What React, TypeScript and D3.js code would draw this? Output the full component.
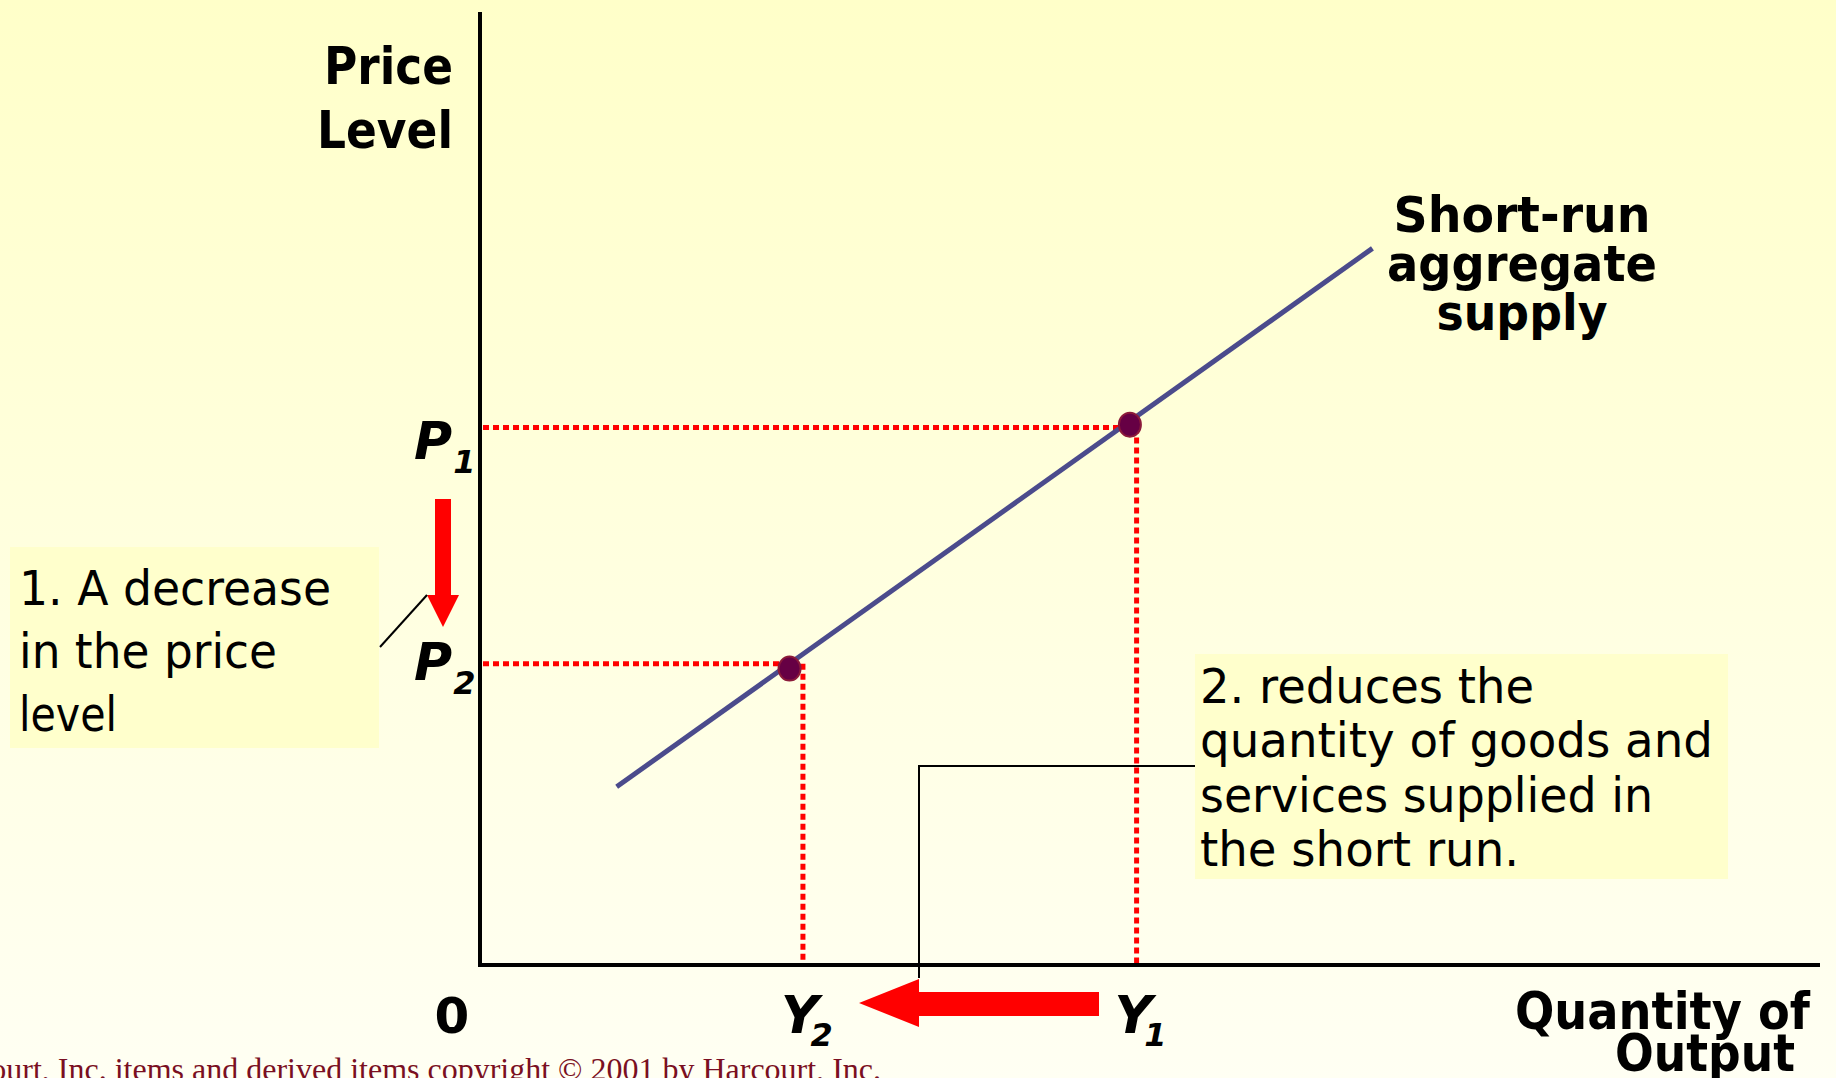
import * as d3 from "d3";

// short-run aggregate supply (output q, price level p)
const srasLine = [
  { q: 1.02, p: 1.87 },
  { q: 6.66, p: 7.52 },
];
const equilibria = [
  { q: 4.85, p: 5.67 },
  { q: 2.31, p: 3.11 },
];
const priceLevels = [
  { name: "P", sub: "1", p: 5.64, dy: 31 },
  { name: "P", sub: "2", p: 3.16, dy: 16 },
];
const outputLevels = [
  { name: "Y", sub: "1", q: 4.9 },
  { name: "Y", sub: "2", q: 2.41 },
];
const note1 = ["1. A decrease", "in the price", "level"];
const note1Widths = [312, 258, 98];
const note2 = ["2. reduces the", "quantity of goods and", "services supplied in", "the short run."];
const note2Widths = [334, 513, 453, 319];
const curveLabel = ["Short-run", "aggregate", "supply"];
const curveLabelWidths = [257, 270, 171];

const W = 1836;
const H = 1078;
const SANS = "Tahoma, 'DejaVu Sans', Verdana, sans-serif";

export default function App() {
  const x = d3.scaleLinear().domain([0, 10]).range([480, 1820]);
  const y = d3.scaleLinear().domain([0, 10]).range([965, 12]);
  const line = d3
    .line<{ q: number; p: number }>()
    .x((d) => x(d.q))
    .y((d) => y(d.p));

  const x0 = x(0);
  const y0 = y(0);

  // arrow shapes
  const downArrow = `M435,499 L451,499 L451,595 L459,595 L443,627 L427,595 L435,595 Z`;
  const leftArrow = `M1099,992 L919,992 L919,979 L859,1003 L919,1027 L919,1016 L1099,1016 Z`;

  return (
    <div style={{ position: "fixed", left: 0, top: 0 }}>
      <svg width={W} height={H} viewBox={`0 0 ${W} ${H}`} style={{ display: "block" }}>
        <defs>
          <linearGradient id="bg" x1="0" y1="0" x2="0" y2="1">
            <stop offset="0" stopColor="#FFFFC9" />
            <stop offset="1" stopColor="#FFFFF3" />
          </linearGradient>
        </defs>
        <rect width={W} height={H} fill="url(#bg)" />

        {/* axes */}
        <line x1={x0} y1={12} x2={x0} y2={y0 + 2} stroke="#000" strokeWidth={4} />
        <line x1={x0 - 2} y1={y0} x2={x(10)} y2={y0} stroke="#000" strokeWidth={4} />

        {/* dotted guides */}
        {priceLevels.map((d, i) => (
          <g key={"g" + i} stroke="#FF0000" strokeWidth={5} strokeDasharray="6 4" fill="none">
            <line x1={x0 + 3} y1={y(d.p)} x2={x(outputLevels[i].q)} y2={y(d.p)} />
            <line x1={x(outputLevels[i].q)} y1={y(d.p)} x2={x(outputLevels[i].q)} y2={y0 - 2} />
          </g>
        ))}

        {/* SRAS */}
        <path d={line(srasLine) || ""} stroke="#4B4B8C" strokeWidth={5} fill="none" />
        {equilibria.map((d, i) => (
          <ellipse key={"e" + i} cx={x(d.q)} cy={y(d.p)} rx={11} ry={12} fill="#660044" stroke="#8B1A3A" strokeWidth={2} />
        ))}

        {/* axis titles */}
        <g fontFamily={SANS} fontWeight="bold" fontSize={52} fill="#000" textAnchor="end">
          <text x={453} y={84} textLength={129} lengthAdjust="spacingAndGlyphs">Price</text>
          <text x={453} y={148} textLength={136} lengthAdjust="spacingAndGlyphs">Level</text>
          <text x={1810} y={1029} textLength={295} lengthAdjust="spacingAndGlyphs">Quantity of</text>
          <text x={1795} y={1071} textLength={180} lengthAdjust="spacingAndGlyphs">Output</text>
        </g>
        <text x={452} y={1033} fontFamily={SANS} fontWeight="bold" fontSize={50} textAnchor="middle">0</text>

        {/* curve label */}
        <g fontFamily={SANS} fontWeight="bold" fontSize={50} textAnchor="middle">
          {curveLabel.map((t, i) => (
            <text key={t} x={1522} y={232 + i * 49} textLength={curveLabelWidths[i]} lengthAdjust="spacingAndGlyphs">
              {t}
            </text>
          ))}
        </g>

        {/* P / Y labels */}
        <g fontFamily={SANS} fontWeight="bold" fontStyle="italic">
          {priceLevels.map((d) => (
            <text key={d.sub} x={414} y={y(d.p) + d.dy} fontSize={52}>
              {d.name}
              <tspan dx={1} dy={14} fontSize={32}>{d.sub}</tspan>
            </text>
          ))}
          {outputLevels.map((d) => (
            <text key={d.sub} x={x(d.q) - 22} y={1033} fontSize={52}>
              {d.name}
              <tspan dx={-8} dy={13} fontSize={32}>{d.sub}</tspan>
            </text>
          ))}
        </g>

        {/* arrows */}
        <path d={downArrow} fill="#FF0000" />
        <path d={leftArrow} fill="#FF0000" />

        {/* note 1 */}
        <rect x={10} y={547} width={369} height={201} fill="#FFFFCC" />
        <line x1={380} y1={647} x2={427} y2={595} stroke="#000" strokeWidth={2} />
        <g fontFamily={SANS} fontSize={48} fill="#000">
          {note1.map((t, i) => (
            <text key={t} x={19} y={605 + i * 63} textLength={note1Widths[i]} lengthAdjust="spacingAndGlyphs">
              {t}
            </text>
          ))}
        </g>

        {/* note 2 */}
        <rect x={1195} y={654} width={533} height={225} fill="#FFFFCC" />
        <polyline points="1195,766 919,766 919,978" fill="none" stroke="#000" strokeWidth={2} />
        <g fontFamily={SANS} fontSize={48} fill="#000">
          {note2.map((t, i) => (
            <text key={t} x={1200} y={703 + i * 54.3} textLength={note2Widths[i]} lengthAdjust="spacingAndGlyphs">
              {t}
            </text>
          ))}
        </g>

        {/* footer */}
        <text x={881} y={1080} fontFamily="'Liberation Serif', 'Times New Roman', serif" fontSize={32} fill="#7A0F22" textAnchor="end">
          Harcourt, Inc. items and derived items copyright © 2001 by Harcourt, Inc.
        </text>
      </svg>
    </div>
  );
}
